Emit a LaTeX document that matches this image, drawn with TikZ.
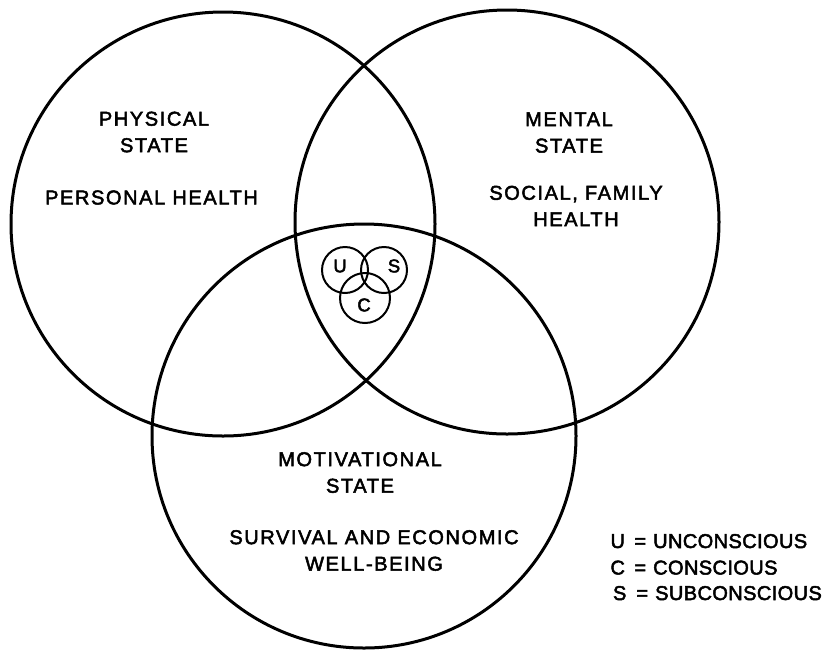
\documentclass[tikz,border=0pt]{standalone}
\usepackage{fontspec}
\newfontfamily\labfont[LetterSpace=8,FakeBold=2.5]{Liberation Sans}
\newfontfamily\legfont[LetterSpace=2,FakeBold=2.5]{Liberation Sans}
\begin{document}
\begin{tikzpicture}[x=1pt,y=-1pt,
  bigc/.style={circle,draw,line width=3pt,inner sep=0pt,minimum size=424pt},
  smallc/.style={circle,draw,line width=2pt,inner sep=0pt,minimum size=#1},
  lab/.style={align=center,inner sep=0pt,font=\labfont\fontsize{20}{26.5}\selectfont},
  letter/.style={inner sep=0pt,font=\legfont\fontsize{18.5}{20}\selectfont},
  legrow/.style={anchor=base west,inner sep=0pt,font=\legfont\fontsize{20}{26}\selectfont}]
\useasboundingbox (0,0) rectangle (826,649);
% large circles
\node[bigc] (phys) at (223,224) {};
\node[bigc] (ment) at (507,222) {};
\node[bigc] (moti) at (364,436) {};
% small circles
\node[smallc=46pt] (cu) at (345,270) {};
\node[smallc=46pt] (cs) at (384,270) {};
\node[smallc=50pt] (cc) at (365,298) {};
\node[letter] (lu) at (340,266) {U};
\node[letter] (ls) at (394,266) {S};
\node[letter] (lc) at (364,305) {C};
% texts
\node[lab] (tphys) at (154,132) {PHYSICAL\\STATE};
\node[lab] (tpers) at (151.5,197.5) {PERSONAL HEALTH};
\node[lab] (tment) at (569,132.5) {MENTAL\\STATE};
\node[lab] (tsoc) at (576,206) {SOCIAL, FAMILY\\HEALTH};
\node[lab] (tmot) at (360,472.5) {MOTIVATIONAL\\STATE};
\node[lab] (tsurv) at (374,550.5) {SURVIVAL AND ECONOMIC\\WELL-BEING};
% legend
\newcommand{\legline}[2]{\makebox[19pt][c]{#1}\makebox[26pt][c]{=}#2}
\node[legrow] (legu) at (608,548) {\legline{U}{UNCONSCIOUS}};
\node[legrow] (legc) at (608,574.5) {\legline{C}{CONSCIOUS}};
\node[legrow] (legs) at (610,600) {\legline{S}{SUBCONSCIOUS}};
\end{tikzpicture}
\end{document}
